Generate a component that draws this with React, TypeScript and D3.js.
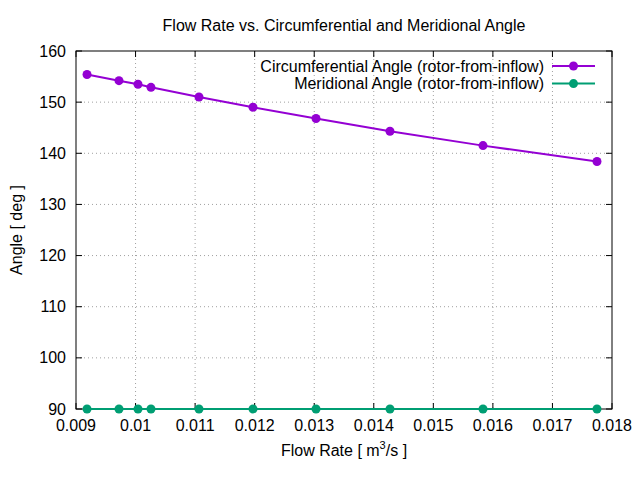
import * as d3 from 'd3';

const flowRate = [0.009185, 0.009722, 0.010041, 0.010259, 0.011065, 0.011972, 0.01303, 0.014272, 0.015834, 0.017748];
const circAngle = [155.4, 154.2, 153.5, 152.9, 151.0, 149.0, 146.8, 144.3, 141.5, 138.4];
const meridAngle = [90, 90, 90, 90, 90, 90, 90, 90, 90, 90];
const xTicks = [0.009, 0.01, 0.011, 0.012, 0.013, 0.014, 0.015, 0.016, 0.017, 0.018];
const yTicks = [90, 100, 110, 120, 130, 140, 150, 160];

const series = [
  { name: 'Circumferential Angle (rotor-from-inflow)', values: circAngle, color: '#9400d3' },
  { name: 'Meridional Angle (rotor-from-inflow)', values: meridAngle, color: '#009e73' },
];

const W = 640;
const H = 480;
const margin = { top: 51, right: 28, bottom: 71, left: 76 };
const font = "'Liberation Sans', Arial, sans-serif";

export default function App() {
  const x = d3.scaleLinear().domain([0.009, 0.018]).range([margin.left, W - margin.right]);
  const y = d3.scaleLinear().domain([90, 160]).range([H - margin.bottom, margin.top]);
  const [x0, x1] = x.range();
  const [y0, y1] = y.range();

  const line = d3.line<number>()
    .x((_, i) => x(flowRate[i]))
    .y(d => y(d));

  return (
    <svg width={W} height={H} style={{ position: 'absolute', left: 0, top: 0, background: '#fff' }}
      fontFamily={font} fontSize={16}>
      <rect width={W} height={H} fill="#fff" />

      {/* grid */}
      {xTicks.slice(1, -1).map(t => (
        <line key={'gx' + t} x1={x(t)} x2={x(t)} y1={y1} y2={y0}
          stroke="#a0a0a0" strokeWidth={1} strokeDasharray="1,3" />
      ))}
      {yTicks.slice(1, -1).map(t => (
        <line key={'gy' + t} x1={x0} x2={x1} y1={y(t)} y2={y(t)}
          stroke="#a0a0a0" strokeWidth={1} strokeDasharray="1,3" />
      ))}

      {/* ticks, mirrored inward */}
      {xTicks.map(t => (
        <g key={'tx' + t}>
          <line x1={x(t)} x2={x(t)} y1={y0} y2={y0 - 6} stroke="#000" />
          <line x1={x(t)} x2={x(t)} y1={y1} y2={y1 + 6} stroke="#000" />
          <text x={x(t)} y={y0 + 22} textAnchor="middle">{d3.format('~g')(t)}</text>
        </g>
      ))}
      {yTicks.map(t => (
        <g key={'ty' + t}>
          <line x1={x0} x2={x0 + 6} y1={y(t)} y2={y(t)} stroke="#000" />
          <line x1={x1} x2={x1 - 6} y1={y(t)} y2={y(t)} stroke="#000" />
          <text x={x0 - 10} y={y(t) + 5.5} textAnchor="end">{t}</text>
        </g>
      ))}

      <rect x={x0} y={y1} width={x1 - x0} height={y0 - y1} fill="none" stroke="#000" strokeWidth={1} />

      {/* series */}
      {series.map(s => (
        <g key={s.name}>
          <path d={line(s.values) || ''} fill="none" stroke={s.color} strokeWidth={2} />
          {s.values.map((v, i) => (
            <circle key={i} cx={x(flowRate[i])} cy={y(v)} r={4.5} fill={s.color} />
          ))}
        </g>
      ))}

      {/* legend */}
      {series.map((s, i) => {
        const ly = 66 + i * 17.6;
        return (
          <g key={'lg' + s.name}>
            <text x={544} y={ly + 5.5} textAnchor="end">{s.name}</text>
            <line x1={552} x2={595} y1={ly} y2={ly} stroke={s.color} strokeWidth={2} />
            <circle cx={573.5} cy={ly} r={4.5} fill={s.color} />
          </g>
        );
      })}

      {/* labels */}
      <text x={(x0 + x1) / 2} y={31} textAnchor="middle">Flow Rate vs. Circumferential and Meridional Angle</text>
      <text x={(x0 + x1) / 2} y={456} textAnchor="middle">
        Flow Rate [ m<tspan dy={-7} fontSize={11}>3</tspan><tspan dy={7}>/s ]</tspan>
      </text>
      <text transform={`translate(22,${(y0 + y1) / 2}) rotate(-90)`} textAnchor="middle">Angle [ deg ]</text>
    </svg>
  );
}
